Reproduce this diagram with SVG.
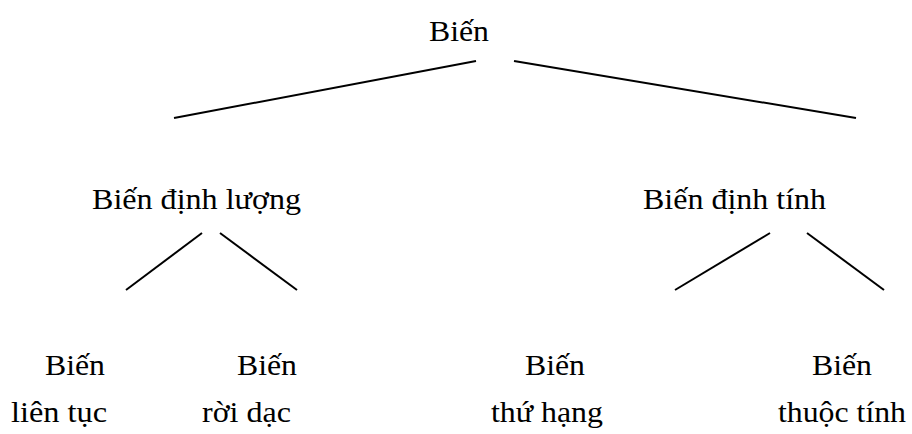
<svg xmlns="http://www.w3.org/2000/svg" width="912" height="434" viewBox="0 0 912 434">
  <style>
    .label { font-family: "Liberation Serif", "Times New Roman", serif; font-size: 30px; fill: #000; }
    .edge { stroke: #000; stroke-width: 2; fill: none; }
  </style>
  <rect width="912" height="434" fill="#fff"/>

  <!-- tree edges -->
  <g id="connectors">
    <line class="edge" x1="476" y1="61" x2="174" y2="118"/>
    <line class="edge" x1="514" y1="61" x2="856" y2="118"/>
    <line class="edge" x1="202" y1="233" x2="126" y2="290"/>
    <line class="edge" x1="220" y1="233" x2="297" y2="290"/>
    <line class="edge" x1="770" y1="233" x2="675" y2="290"/>
    <line class="edge" x1="807" y1="233" x2="884" y2="290"/>
  </g>

  <g id="root">
    <text class="label" x="429" y="41" textLength="60" lengthAdjust="spacingAndGlyphs">Biến</text>
  </g>
  <g id="quantitative">
    <text class="label" x="92" y="209" textLength="209" lengthAdjust="spacingAndGlyphs">Biến định lượng</text>
  </g>
  <g id="qualitative">
    <text class="label" x="643" y="209" textLength="183" lengthAdjust="spacingAndGlyphs">Biến định tính</text>
  </g>
  <g id="continuous">
    <text class="label" x="45" y="375" textLength="60" lengthAdjust="spacingAndGlyphs">Biến</text>
    <text class="label" x="11" y="422" textLength="96" lengthAdjust="spacingAndGlyphs">liên tục</text>
  </g>
  <g id="discrete">
    <text class="label" x="237" y="375" textLength="60" lengthAdjust="spacingAndGlyphs">Biến</text>
    <text class="label" x="202" y="422" textLength="89" lengthAdjust="spacingAndGlyphs">rời dạc</text>
  </g>
  <g id="ordinal">
    <text class="label" x="525" y="375" textLength="60" lengthAdjust="spacingAndGlyphs">Biến</text>
    <text class="label" x="491" y="422" textLength="112" lengthAdjust="spacingAndGlyphs">thứ hạng</text>
  </g>
  <g id="nominal">
    <text class="label" x="812" y="375" textLength="60" lengthAdjust="spacingAndGlyphs">Biến</text>
    <text class="label" x="778" y="422" textLength="128" lengthAdjust="spacingAndGlyphs">thuộc tính</text>
  </g>
</svg>
